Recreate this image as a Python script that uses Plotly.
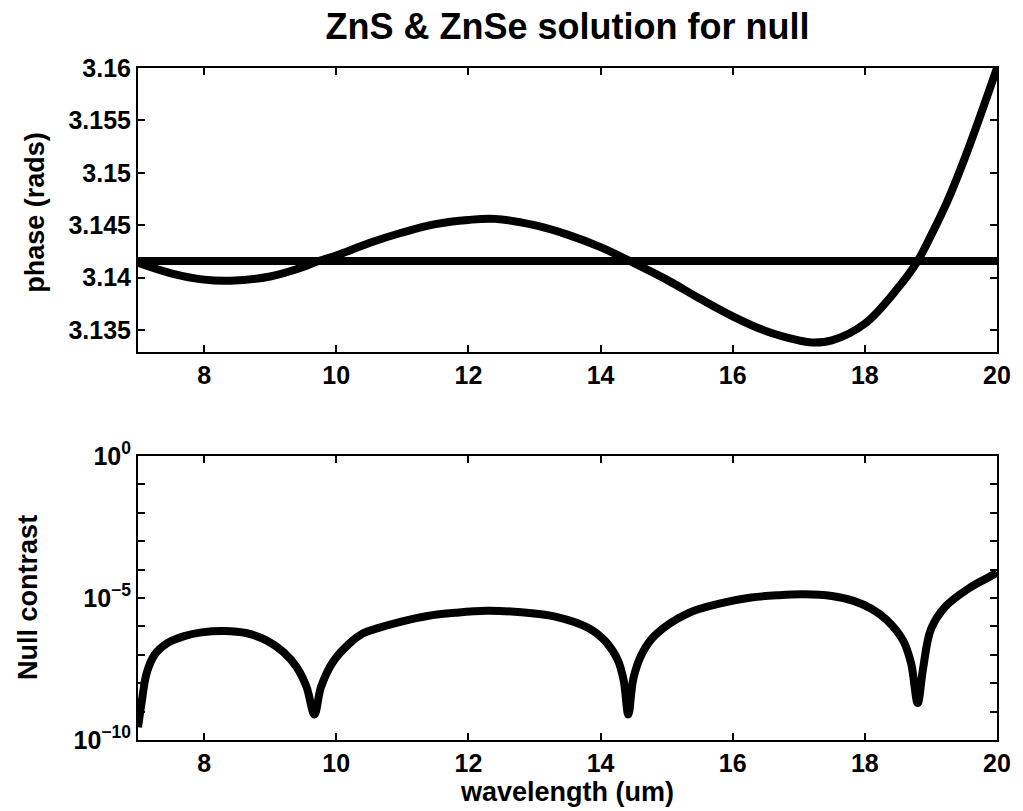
import plotly.graph_objects as go
from plotly.subplots import make_subplots

# ---- data ----
phase_wl = [7.0, 7.5, 8.0, 8.4, 9.0, 9.5, 9.7, 10.0, 10.5, 11.0, 11.5, 12.0, 12.4,
            13.0, 13.5, 14.0, 14.5, 15.0, 15.5, 16.0, 16.5, 17.0, 17.2, 17.5,
            18.0, 18.5, 18.8, 19.0, 19.25, 19.5, 19.75, 20.0]
phase_val = [3.1414, 3.1404, 3.1398, 3.1397, 3.1401, 3.1410, 3.1415, 3.1421, 3.1433,
             3.1443, 3.1451, 3.1455, 3.1456, 3.1450, 3.1441, 3.1429, 3.1414, 3.1398,
             3.1380, 3.1363, 3.1349, 3.1340, 3.1338, 3.1340, 3.1356, 3.1390,
             3.1416, 3.1440, 3.1473, 3.1512, 3.1555, 3.1600]
pi_wl = [7.0, 20.0]
pi_val = [3.14159, 3.14159]

null_wl = [7.0, 7.06, 7.13, 7.25, 7.45, 7.7, 7.96, 8.3, 8.65, 8.95, 9.2, 9.4, 9.55,
           9.67, 9.77, 9.95, 10.2, 10.4, 10.63, 11.0, 11.38, 11.8, 12.28, 12.8, 13.33,
           13.83, 14.08, 14.26, 14.35, 14.42, 14.5, 14.63, 14.83, 15.33, 15.83, 16.28,
           16.7, 17.08, 17.5, 17.83, 18.1, 18.33, 18.58, 18.7, 18.8, 18.88, 19.0,
           19.22, 19.58, 19.93, 20.0]
null_log = [-9.55, -8.6, -7.65, -7.0, -6.58, -6.34, -6.21, -6.16, -6.24, -6.5, -6.9,
            -7.43, -8.13, -9.1, -8.13, -7.25, -6.6, -6.25, -6.06, -5.82, -5.63, -5.52,
            -5.45, -5.5, -5.66, -6.07, -6.54, -7.18, -7.9, -9.1, -7.8, -6.95, -6.3,
            -5.53, -5.18, -4.98, -4.9, -4.87, -4.93, -5.1, -5.38, -5.77, -6.5, -7.3,
            -8.7, -7.5, -6.1, -5.3, -4.65, -4.2, -4.1]
null_val = [10 ** v for v in null_log]

x_ticks = [8, 10, 12, 14, 16, 18, 20]
phase_ticks = [3.135, 3.14, 3.145, 3.15, 3.155, 3.16]
phase_ticktext = ["3.135", "3.14", "3.145", "3.15", "3.155", "3.16"]
null_ticks = [10 ** e for e in range(-10, 1)]
null_ticktext = ["10<sup>−10</sup>", "", "", "", "", "10<sup>−5</sup>", "", "", "", "", "10<sup>0</sup>"]

# ---- figure ----
FONT = "Liberation Sans"
TICK = 25
LAB = 27
fig = make_subplots(rows=2, cols=1, vertical_spacing=0.155)

fig.add_trace(go.Scatter(x=pi_wl, y=pi_val, mode="lines",
                         line=dict(color="black", width=8), showlegend=False), row=1, col=1)
fig.add_trace(go.Scatter(x=phase_wl, y=phase_val, mode="lines", line_shape="spline",
                         line=dict(color="black", width=8), showlegend=False), row=1, col=1)
fig.add_trace(go.Scatter(x=null_wl, y=null_val, mode="lines", line_shape="spline",
                         line=dict(color="black", width=8), showlegend=False), row=2, col=1)

axis_common = dict(showline=True, linecolor="black", linewidth=2, mirror="ticks",
                   ticks="inside", ticklen=7, tickwidth=2, tickcolor="black",
                   showgrid=False, zeroline=False,
                   tickfont=dict(family=FONT, size=TICK, color="black", weight="bold"))

fig.update_xaxes(range=[7, 20], tickvals=x_ticks, **axis_common)
fig.update_xaxes(row=2, col=1,
                 title=dict(text="wavelength (um)", standoff=0,
                            font=dict(family=FONT, size=LAB, color="black", weight="bold")))
fig.update_yaxes(row=1, col=1, range=[3.1329, 3.16], tickvals=phase_ticks,
                 ticktext=phase_ticktext, **axis_common)
fig.update_yaxes(row=2, col=1, type="log", range=[-10, 0], tickvals=null_ticks,
                 ticktext=null_ticktext, **axis_common)

title_font = dict(family=FONT, size=LAB, color="black", weight="bold")
plot_w = 1023 - 138 - 19
plot_h = 811 - 68 - 71
fig.add_annotation(text="phase (rads)", textangle=-90, showarrow=False,
                   xref="paper", yref="paper", xanchor="center", yanchor="middle",
                   x=(34 - 138) / plot_w, y=1 - (212 - 68) / plot_h, font=title_font)
fig.add_annotation(text="Null contrast", textangle=-90, showarrow=False,
                   xref="paper", yref="paper", xanchor="center", yanchor="middle",
                   x=(27 - 138) / plot_w, y=1 - (597 - 68) / plot_h, font=title_font)

fig.update_layout(
    width=1023, height=811,
    margin=dict(l=138, r=19, t=68, b=71),
    paper_bgcolor="white", plot_bgcolor="white",
    title=dict(text="ZnS & ZnSe solution for null", x=0.5, xref="paper", y=0.968,
               xanchor="center", yanchor="middle",
               font=dict(family=FONT, size=36, color="black", weight="bold")),
)

fig.write_html("out.html")
